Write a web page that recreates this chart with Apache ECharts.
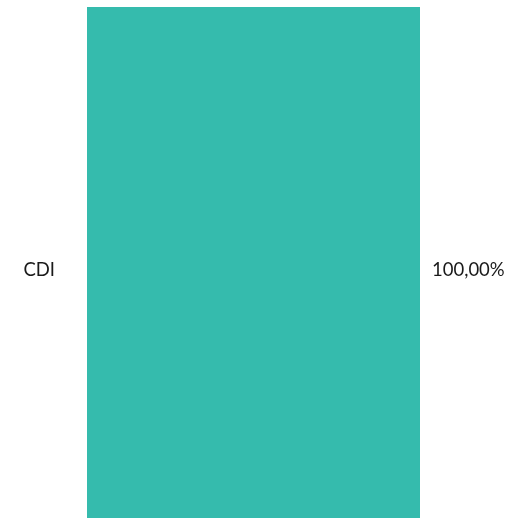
<!DOCTYPE html>
<html>
<head>
<meta charset="utf-8">
<style>
  html, body { margin: 0; padding: 0; background: #ffffff; }
  #chart { width: 516px; height: 518px; }
</style>
<script src="https://cdn.jsdelivr.net/npm/echarts@6/dist/echarts.min.js"></script>
</head>
<body>
<div id="chart"></div>
<script>
// Allocation by index
const categories = ['CDI'];
const shares = [100];

const chart = echarts.init(document.getElementById('chart'), null, { renderer: 'canvas' });

const fmt = v => v.toFixed(2).replace('.', ',') + '%';

chart.setOption({
  animation: false,
  grid: { left: 87, right: 96, top: 7, bottom: 0, containLabel: false },
  xAxis: {
    type: 'value', min: 0, max: 100,
    show: false
  },
  yAxis: {
    type: 'category',
    data: categories,
    axisLine: { show: false },
    axisTick: { show: false },
    splitLine: { show: false },
    axisLabel: {
      margin: 32,
      formatter: v => '{c|' + v + '}',
      rich: {
        c: {
          color: '#1a1a1a',
          fontFamily: 'Lato',
          fontSize: 18.5,
          padding: [16, 0, 0, 0]
        }
      }
    }
  },
  series: [{
    type: 'bar',
    data: shares,
    barWidth: '100%',
    itemStyle: { color: '#35bbad' },
    label: {
      show: true,
      position: 'right',
      distance: 12,
      offset: [0, 8],
      color: '#1a1a1a',
      fontFamily: 'Lato',
      fontSize: 18.5,
      formatter: p => fmt(p.value)
    }
  }]
});
</script>
</body>
</html>
